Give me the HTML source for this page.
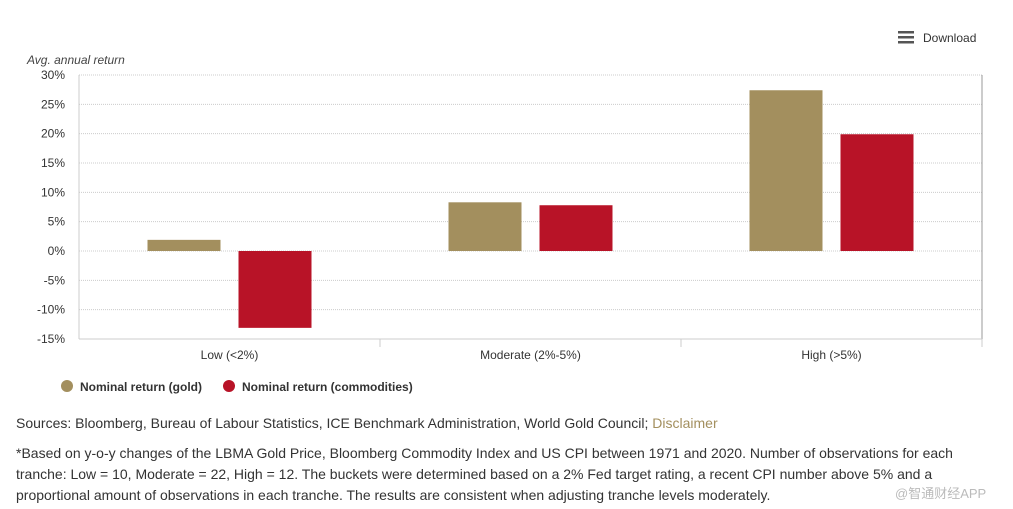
<!DOCTYPE html>
<html><head><meta charset="utf-8"><style>
body{margin:0;background:#fff;font-family:"Liberation Sans",Arial,sans-serif;width:1013px;height:509px;overflow:hidden;position:relative}
.t{position:absolute;color:#333}
</style></head><body>
<svg width="1013" height="400" style="position:absolute;left:0;top:0">
<g id="grid"></g><g id="bars"></g><g id="axes"></g>
<g>
<rect x="898" y="31" width="16" height="2.5" fill="#555"/><rect x="898" y="36" width="16" height="2.5" fill="#555"/><rect x="898" y="41" width="16" height="2.5" fill="#555"/>
<text x="923" y="42" font-size="12" fill="#333" font-family="Liberation Sans">Download</text></g>
<text x="27" y="64" font-size="12" font-style="italic" fill="#444">Avg. annual return</text>
<g>
<circle cx="67" cy="386" r="6" fill="#a38f5e"/><text x="80" y="391" font-size="12" font-weight="bold" fill="#333">Nominal return (gold)</text>
<circle cx="229" cy="386" r="6" fill="#b81327"/><text x="242" y="391" font-size="12" font-weight="bold" fill="#333">Nominal return (commodities)</text></g>
</svg>
<div class="t" style="left:16px;top:415px;font-size:14px">Sources: Bloomberg, Bureau of Labour Statistics, ICE Benchmark Administration, World Gold Council; <span style="color:#a38f5e">Disclaimer</span></div>
<div class="t" style="left:16px;top:443px;width:965px;font-size:14px;line-height:21px">*Based on y-o-y changes of the LBMA Gold Price, Bloomberg Commodity Index and US CPI between 1971 and 2020. Number of observations for each tranche: Low = 10, Moderate = 22, High = 12. The buckets were determined based on a 2% Fed target rating, a recent CPI number above 5% and a proportional amount of observations in each tranche. The results are consistent when adjusting tranche levels moderately.</div>
<div class="t" style="left:895px;top:483px;font-size:13px;color:#bbb">@智通财经APP</div>
<script>
const categories=["Low (<2%)","Moderate (2%-5%)","High (>5%)"];
const gold=[1.9,8.3,27.4];
const commodities=[-13.1,7.8,19.9];
const ticks=[30,25,20,15,10,5,0,-5,-10,-15];
const NS="http://www.w3.org/2000/svg";
const L=79,R=982,T=75,B=339,min=-15,max=30;
const y=v=>T+(max-v)/(max-min)*(B-T);
const cw=(R-L)/categories.length;
const x=i=>L+cw*(i+0.5);
function mk(t,a,p){const e=document.createElementNS(NS,t);for(const k in a)e.setAttribute(k,a[k]);p.appendChild(e);return e;}
const g=document.getElementById('grid'),b=document.getElementById('bars'),ax=document.getElementById('axes');
ticks.forEach(v=>{
 const l=mk('line',{x1:L,x2:R,y1:y(v),y2:y(v),stroke:'#ccc','stroke-dasharray':'1,1'},g);
 
 
 const t=mk('text',{x:65,y:y(v)+4,'text-anchor':'end','font-size':12,fill:'#333','font-family':'Liberation Sans'},ax);
 t.textContent=v+'%';
 
 
});
mk('line',{x1:L,x2:L,y1:T,y2:B,stroke:'#ccc'},ax);
mk('line',{x1:R,x2:R,y1:T,y2:B,stroke:'#999'},ax);
mk('line',{x1:L,x2:R,y1:B,y2:B,stroke:'#ccc'},ax);
categories.forEach((c,i)=>{
 mk('line',{x1:L+cw*(i+1),x2:L+cw*(i+1),y1:B,y2:B+8,stroke:'#ccc'},ax);
 const t=mk('text',{x:x(i),y:359,'text-anchor':'middle','font-size':12,fill:'#333','font-family':'Liberation Sans'},ax);
 t.textContent=c;
 
 
 [[gold,'#a38f5e',-82],[commodities,'#b81327',9]].forEach(([s,col,off])=>{
  const v=s[i];
  const r=mk('rect',{x:x(i)+off,width:73,y:Math.min(y(v),y(0)),height:Math.abs(y(v)-y(0)),fill:col},b);
  
  
 });
});
</script>
</body></html>
